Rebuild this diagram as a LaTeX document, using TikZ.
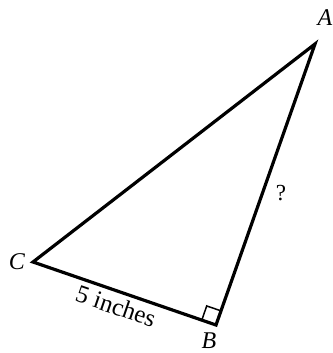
\documentclass[tikz,border=0pt]{standalone}
\usepackage{fontspec}
\setmainfont{Liberation Serif}
\usetikzlibrary{calc}
\begin{document}
\begin{tikzpicture}[x=1pt,y=1pt,
  side/.style={line width=3.2pt,line join=miter},
  vlabel/.style={font=\fontsize{24}{28}\selectfont\itshape,inner sep=0pt},
  qlabel/.style={font=\fontsize{23}{27}\selectfont,inner sep=0pt},
  lenlabel/.style={font=\fontsize{25}{29}\selectfont,inner sep=0pt}]
\useasboundingbox (0,0) rectangle (332,353);
\coordinate (A) at (315,309);
\coordinate (B) at (216,28);
\coordinate (C) at (33,91);
\draw[side] (A) -- (B) -- (C) -- cycle;
\draw[line width=1.5pt] ($(B)!15pt!(C)$) -- ($(B)!15pt!(C)!15pt!90:(B)$) -- ($(B)!15pt!(A)$);
\node[vlabel] (la) at (325,335) {A};
\node[vlabel] (lb) at (209,12) {B};
\node[vlabel] (lc) at (17,91) {C};
\node[qlabel] (q) at (281,160) {?};
\node[lenlabel,rotate=-19] (len) at (116,47) {5 inches};
\end{tikzpicture}
\end{document}
